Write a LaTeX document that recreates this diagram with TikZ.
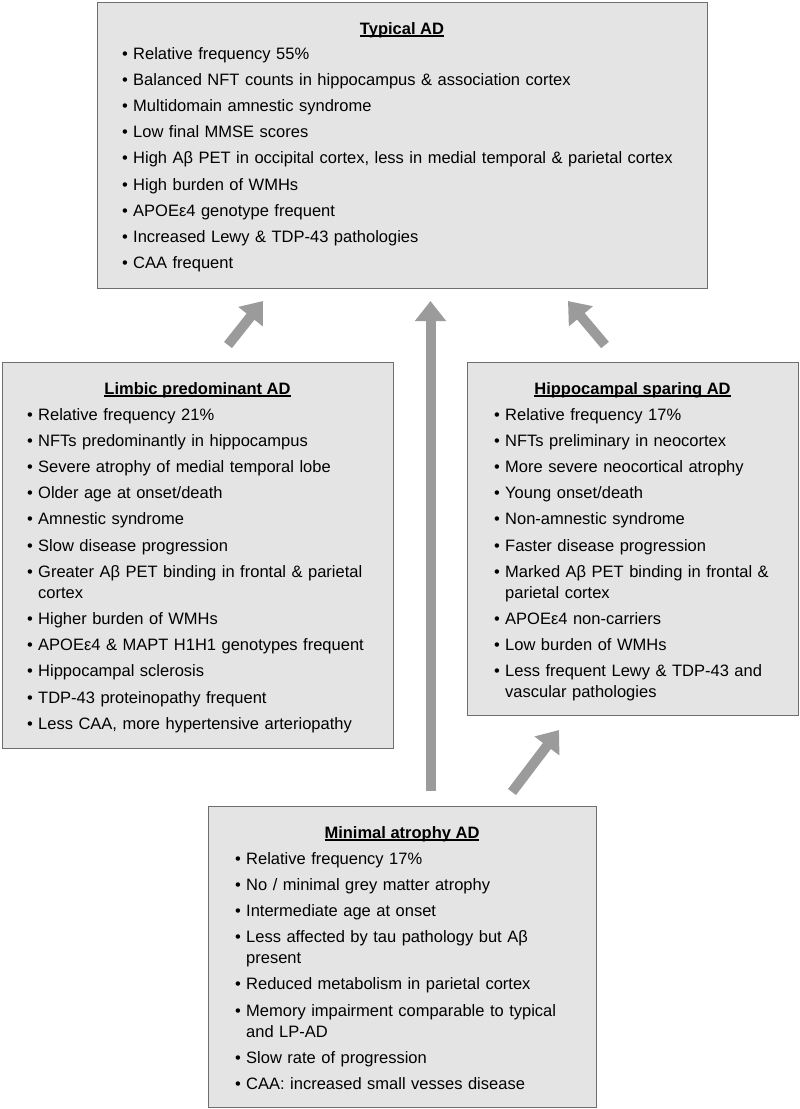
\documentclass[tikz,border=0pt]{standalone}
\usepackage{fontspec}
\setmainfont{Liberation Sans}
\usetikzlibrary{arrows.meta}
\definecolor{boxfill}{HTML}{E4E4E4}
\definecolor{boxline}{HTML}{6E6E6E}
\definecolor{arrowgray}{HTML}{9B9B9B}
\newcommand\ulttl[1]{\setbox0\hbox{\bfseries #1}\rlap{\rule[-2.6pt]{\wd0}{1.3pt}}\box0}
\newcommand\bul{\makebox[11pt][l]{•}}
\newcommand\cont{\hspace*{11pt}}
\tikzset{
  panel/.style={draw=boxline, line width=1.4pt, fill=boxfill, inner sep=0pt, anchor=north west},
  ttl/.style={inner sep=0pt, anchor=base, font=\fontsize{16.5}{20}\selectfont},
  lst/.style={inner sep=0pt, anchor=base west, text width=700pt, font=\fontsize{16.5}{26.2}\selectfont},
  fat/.style={draw=arrowgray, line width=10pt, -{Triangle[width=30pt,length=20pt]}}
}
\begin{document}
\begin{tikzpicture}[x=1pt,y=-1pt]
\useasboundingbox (0,0) rectangle (800,1109);
% boxes
\node[panel, minimum width=610pt, minimum height=286pt] (typ) at (97,2) {};
\node[panel, minimum width=391pt, minimum height=386pt] (lim) at (2,362) {};
\node[panel, minimum width=331pt, minimum height=353pt] (hip) at (467,362) {};
\node[panel, minimum width=388pt, minimum height=301pt] (min) at (208,806) {};
% titles
\node[ttl] (typt) at (402,34) {\ulttl{Typical AD}};
\node[ttl] (limt) at (197.5,394) {\ulttl{Limbic predominant AD}};
\node[ttl] (hipt) at (632.5,394) {\ulttl{Hippocampal sparing AD}};
\node[ttl] (mint) at (402,838) {\ulttl{Minimal atrophy AD}};
% lists
\node[lst] (typl) at (122,59) {%
\bul Relative frequency 55\%\\
\bul Balanced NFT counts in hippocampus \& association cortex\\
\bul Multidomain amnestic syndrome\\
\bul Low final MMSE scores\\
\bul High Aβ PET in occipital cortex, less in medial temporal \& parietal cortex\\
\bul High burden of WMHs\\
\bul APOEε4 genotype frequent\\
\bul Increased Lewy \& TDP-43 pathologies\\
\bul CAA frequent};
\node[lst] (liml) at (27,420) {%
\bul Relative frequency 21\%\\
\bul NFTs predominantly in hippocampus\\
\bul Severe atrophy of medial temporal lobe\\
\bul Older age at onset/death\\
\bul Amnestic syndrome\\
\bul Slow disease progression\\
\bul Greater Aβ PET binding in frontal \& parietal\\[-5.2pt]
\cont cortex\\
\bul Higher burden of WMHs\\
\bul APOEε4 \& MAPT H1H1 genotypes frequent\\
\bul Hippocampal sclerosis\\
\bul TDP-43 proteinopathy frequent\\
\bul Less CAA, more hypertensive arteriopathy};
\node[lst] (hipl) at (494,420) {%
\bul Relative frequency 17\%\\
\bul NFTs preliminary in neocortex\\
\bul More severe neocortical atrophy\\
\bul Young onset/death\\
\bul Non-amnestic syndrome\\
\bul Faster disease progression\\
\bul Marked Aβ PET binding in frontal \&\\[-5.2pt]
\cont parietal cortex\\
\bul APOEε4 non-carriers\\
\bul Low burden of WMHs\\
\bul Less frequent Lewy \& TDP-43 and\\[-5.2pt]
\cont vascular pathologies};
\node[lst] (minl) at (235,864) {%
\bul Relative frequency 17\%\\
\bul No / minimal grey matter atrophy\\
\bul Intermediate age at onset\\
\bul Less affected by tau pathology but Aβ\\[-5.2pt]
\cont present\\
\bul Reduced metabolism in parietal cortex\\
\bul Memory impairment comparable to typical\\[-5.2pt]
\cont and LP-AD\\
\bul Slow rate of progression\\
\bul CAA: increased small vesses disease};
% arrow end points
\coordinate (a1s) at (228,345);
\coordinate (a1e) at (263,301);
\coordinate (a2s) at (430.5,791);
\coordinate (a2e) at (430.5,301);
\coordinate (a3s) at (605,345);
\coordinate (a3e) at (568,301);
\coordinate (a4s) at (512,792);
\coordinate (a4e) at (559,730);
\draw[fat] (a1s) -- (a1e);
\draw[fat] (a2s) -- (a2e);
\draw[fat] (a3s) -- (a3e);
\draw[fat] (a4s) -- (a4e);
\end{tikzpicture}
\end{document}
